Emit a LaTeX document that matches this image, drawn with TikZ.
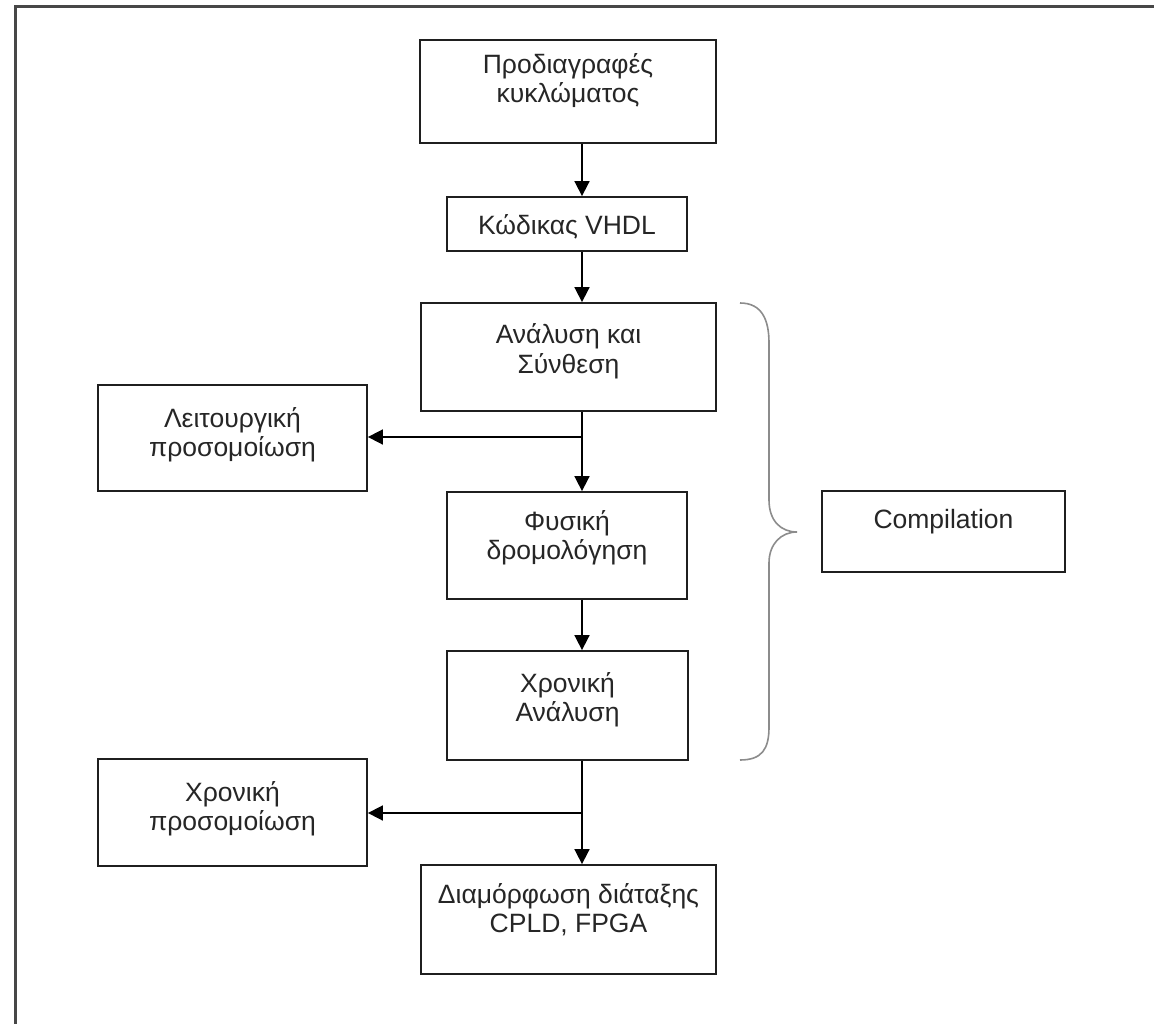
\documentclass[tikz,border=0pt]{standalone}
\usepackage{fontspec}
\setmainfont{Liberation Sans}
\usetikzlibrary{arrows.meta}
\begin{document}
\begin{tikzpicture}[x=1pt,y=-1pt,
  box/.style={draw=black!88, line width=1.8pt, fill=white, inner sep=0pt},
  txt/.style={font=\fontsize{26.5}{29}\selectfont, text=black!85, align=center, inner sep=0pt, anchor=base},
  arr/.style={draw=black, line width=1.7pt, -{Triangle[length=15pt,width=15pt]}},
  brace/.style={draw=black!45, line width=1.6pt},
  frame/.style={draw=black!72, line width=2.6pt}]
\useasboundingbox (0,0) rectangle (1154,1024);
% frame (only left and top visible)
\draw[frame] (15.5,1024) -- (15.5,6.5) -- (1154,6.5);
% boxes
\node[box, minimum width=296pt, minimum height=103pt] (b1) at (568,91.5) {};
\node[box, minimum width=240pt, minimum height=54pt] (b2) at (567,224) {};
\node[box, minimum width=295pt, minimum height=108pt] (b3) at (568.5,357) {};
\node[box, minimum width=269pt, minimum height=106pt] (sim1) at (232.5,438) {};
\node[box, minimum width=240pt, minimum height=107pt] (b4) at (567,545.5) {};
\node[box, minimum width=241pt, minimum height=109pt] (b5) at (567.5,705.5) {};
\node[box, minimum width=269pt, minimum height=107pt] (sim2) at (232.5,812.5) {};
\node[box, minimum width=295pt, minimum height=109pt] (b7) at (568.5,919.5) {};
\node[box, minimum width=243pt, minimum height=81pt] (comp) at (943.5,531.5) {};
% texts (base anchor = baseline of the last line)
\node[txt] (t1) at (568,103) {Προδιαγραφές\\κυκλώματος};
\node[txt] (t2) at (567,235) {Κώδικας VHDL};
\node[txt] (t3) at (568.5,373) {Ανάλυση και\\Σύνθεση};
\node[txt] (ts1) at (232.5,456) {Λειτουργική\\προσομοίωση};
\node[txt] (t4) at (567,559) {Φυσική\\δρομολόγηση};
\node[txt] (t5) at (567.5,721) {Χρονική\\Ανάλυση};
\node[txt] (ts2) at (232.5,830) {Χρονική\\προσομοίωση};
\node[txt] (t7) at (568.5,932) {Διαμόρφωση διάταξης\\CPLD, FPGA};
\node[txt] (tc) at (943.5,528) {Compilation};
% connectors
\coordinate (ax) at (582,0);
\coordinate (j1) at (582,437);
\coordinate (j2) at (582,813);
\draw[arr] (ax |- b1.south) -- (ax |- b2.north);
\draw[arr] (ax |- b2.south) -- (ax |- b3.north);
\draw[arr] (ax |- b3.south) -- (ax |- b4.north);
\draw[arr] (j1) -- (j1 -| sim1.east);
\draw[arr] (ax |- b4.south) -- (ax |- b5.north);
\draw[arr] (ax |- b5.south) -- (ax |- b7.north);
\draw[arr] (j2) -- (j2 -| sim2.east);
% brace
\draw[brace] (740,303) .. controls (762,303) and (769,320) .. (769,343)
  -- (769,500) .. controls (769,521) and (781,532) .. (797,532)
  .. controls (781,532) and (769,544) .. (769,563)
  -- (769,727) .. controls (769,749) and (762,760) .. (740,760);
\end{tikzpicture}
\end{document}
